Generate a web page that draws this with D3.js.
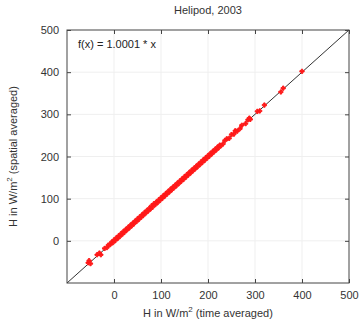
<!DOCTYPE html>
<html>
<head>
<meta charset="utf-8">
<script src="https://cdn.jsdelivr.net/npm/d3@7"></script>
<style>
  body { margin: 0; background: #fff; }
  svg { font-family: "Liberation Sans", Arial, sans-serif; }
</style>
</head>
<body>
<div id="chart"></div>
<script>
const title = "Helipod, 2003";
const fitLabel = "f(x) = 1.0001 * x";
const slope = 1.0001;
const xTicks = [0, 100, 200, 300, 400, 500];
const yTicks = [0, 100, 200, 300, 400, 500];
const allTicks = [-100, 0, 100, 200, 300, 400, 500];
// [time averaged, spatial averaged]
const points = [
  [-55, -52], [-53, -47], [-50, -54], [-36, -33], [-31, -29], [-28, -33],
  [-20, -18], [-15, -16], [-12, -10], [-8, -9], [-5, -3], [-2, -4],
  [0, 2], [3, 1], [5, 7], [8, 6], [10, 12], [12, 10], [15, 17], [18, 16],
  [20, 22], [22, 20], [25, 27], [28, 26], [30, 32], [33, 31], [35, 37],
  [38, 36], [40, 42], [42, 40], [45, 47], [48, 46], [50, 52], [53, 51],
  [55, 57], [58, 56], [60, 62], [62, 60], [65, 67], [68, 66], [70, 72],
  [73, 71], [75, 77], [78, 76], [80, 83], [82, 80], [85, 88], [88, 86],
  [90, 92], [93, 91], [95, 97], [98, 96], [100, 102], [103, 101], [105, 107],
  [108, 106], [110, 112], [113, 111], [115, 117], [118, 116], [120, 122],
  [123, 121], [125, 127], [128, 126], [130, 132], [133, 131], [135, 137],
  [138, 136], [140, 142], [143, 141], [145, 147], [148, 146], [150, 152],
  [153, 151], [155, 157], [158, 156], [160, 162], [163, 161], [165, 167],
  [168, 166], [170, 172], [173, 171], [175, 177], [178, 176], [180, 182],
  [183, 181], [185, 187], [188, 186], [190, 192], [193, 191], [195, 197],
  [198, 196], [200, 202], [203, 201], [205, 207], [208, 206], [210, 212],
  [213, 211], [215, 217], [218, 216], [220, 222], [223, 221], [225, 227],
  [228, 226], [232, 230], [236, 238], [240, 242], [245, 243], [250, 252],
  [255, 253], [258, 261], [262, 260], [268, 266], [272, 274], [280, 278],
  [285, 287], [288, 291], [290, 288], [305, 307], [310, 308], [320, 322],
  [355, 353], [360, 362], [400, 402]
];

const W = 363, H = 324;
const margin = { top: 30, right: 14, bottom: 41, left: 67 };
const w = W - margin.left - margin.right;
const h = H - margin.top - margin.bottom;

const svg = d3.select("#chart").append("svg")
  .attr("width", W)
  .attr("height", H);

const g = svg.append("g")
  .attr("transform", "translate(" + margin.left + "," + margin.top + ")");

const x = d3.scaleLinear().domain([-100, 500]).range([0, w]);
const y = d3.scaleLinear().domain([-100, 500]).range([h, 0]);

// faint grid
g.append("g").selectAll("line.gx")
  .data(allTicks.slice(1, -1))
  .enter().append("line")
  .attr("x1", d => x(d)).attr("x2", d => x(d))
  .attr("y1", 0).attr("y2", h)
  .attr("stroke", "#efefef").attr("stroke-width", 1);
g.append("g").selectAll("line.gy")
  .data(allTicks.slice(1, -1))
  .enter().append("line")
  .attr("y1", d => y(d)).attr("y2", d => y(d))
  .attr("x1", 0).attr("x2", w)
  .attr("stroke", "#efefef").attr("stroke-width", 1);

// fit line
g.append("line")
  .attr("x1", x(-100)).attr("y1", y(-100 * slope))
  .attr("x2", x(500)).attr("y2", y(500 * slope))
  .attr("stroke", "#333").attr("stroke-width", 1);

// data points as small crosses
const sym = d3.symbol().type(d3.symbolCross).size(10);
g.append("g").selectAll("path")
  .data(points)
  .enter().append("path")
  .attr("d", sym)
  .attr("transform", d => "translate(" + x(d[0]) + "," + y(d[1]) + ")")
  .attr("fill", "#ff1a1a")
  .attr("stroke", "#ff1a1a")
  .attr("stroke-width", 1);

// axes with inward ticks, mirrored
const tickSize = 4;
g.append("g")
  .attr("transform", "translate(0," + h + ")")
  .call(d3.axisBottom(x).tickValues(xTicks).tickSize(-tickSize).tickPadding(8))
  .call(a => a.select(".domain").remove());
g.append("g")
  .call(d3.axisLeft(y).tickValues(yTicks).tickSize(-tickSize).tickPadding(8))
  .call(a => a.select(".domain").remove());
g.append("g")
  .call(d3.axisTop(x).tickValues(xTicks).tickSize(-tickSize).tickFormat(""))
  .call(a => a.select(".domain").remove());
g.append("g")
  .attr("transform", "translate(" + w + ",0)")
  .call(d3.axisRight(y).tickValues(yTicks).tickSize(-tickSize).tickFormat(""))
  .call(a => a.select(".domain").remove());

g.selectAll(".tick line").attr("stroke", "#444");
g.selectAll(".tick text").attr("font-size", 11).attr("fill", "#333")
  .attr("font-family", "Liberation Sans, Arial, sans-serif");

// frame
g.append("rect")
  .attr("width", w).attr("height", h)
  .attr("fill", "none").attr("stroke", "#444").attr("stroke-width", 1);

// fit label
g.append("text")
  .attr("x", 11).attr("y", 18)
  .attr("font-size", 11).attr("fill", "#222")
  .text(fitLabel);

// title
svg.append("text")
  .attr("x", margin.left + w / 2).attr("y", 14)
  .attr("text-anchor", "middle")
  .attr("font-size", 11).attr("fill", "#333")
  .text(title);

// x label
const xl = svg.append("text")
  .attr("x", margin.left + w / 2).attr("y", 317)
  .attr("text-anchor", "middle")
  .attr("font-size", 11).attr("fill", "#333");
xl.append("tspan").text("H in W/m");
xl.append("tspan").attr("font-size", 8).attr("dy", -5).text("2");
xl.append("tspan").attr("dy", 5).text(" (time averaged)");

// y label
const yl = svg.append("text")
  .attr("transform", "translate(17," + (margin.top + h / 2) + ") rotate(-90)")
  .attr("text-anchor", "middle")
  .attr("font-size", 11).attr("fill", "#333");
yl.append("tspan").text("H in W/m");
yl.append("tspan").attr("font-size", 8).attr("dy", -5).text("2");
yl.append("tspan").attr("dy", 5).text(" (spatial averaged)");
</script>
</body>
</html>
